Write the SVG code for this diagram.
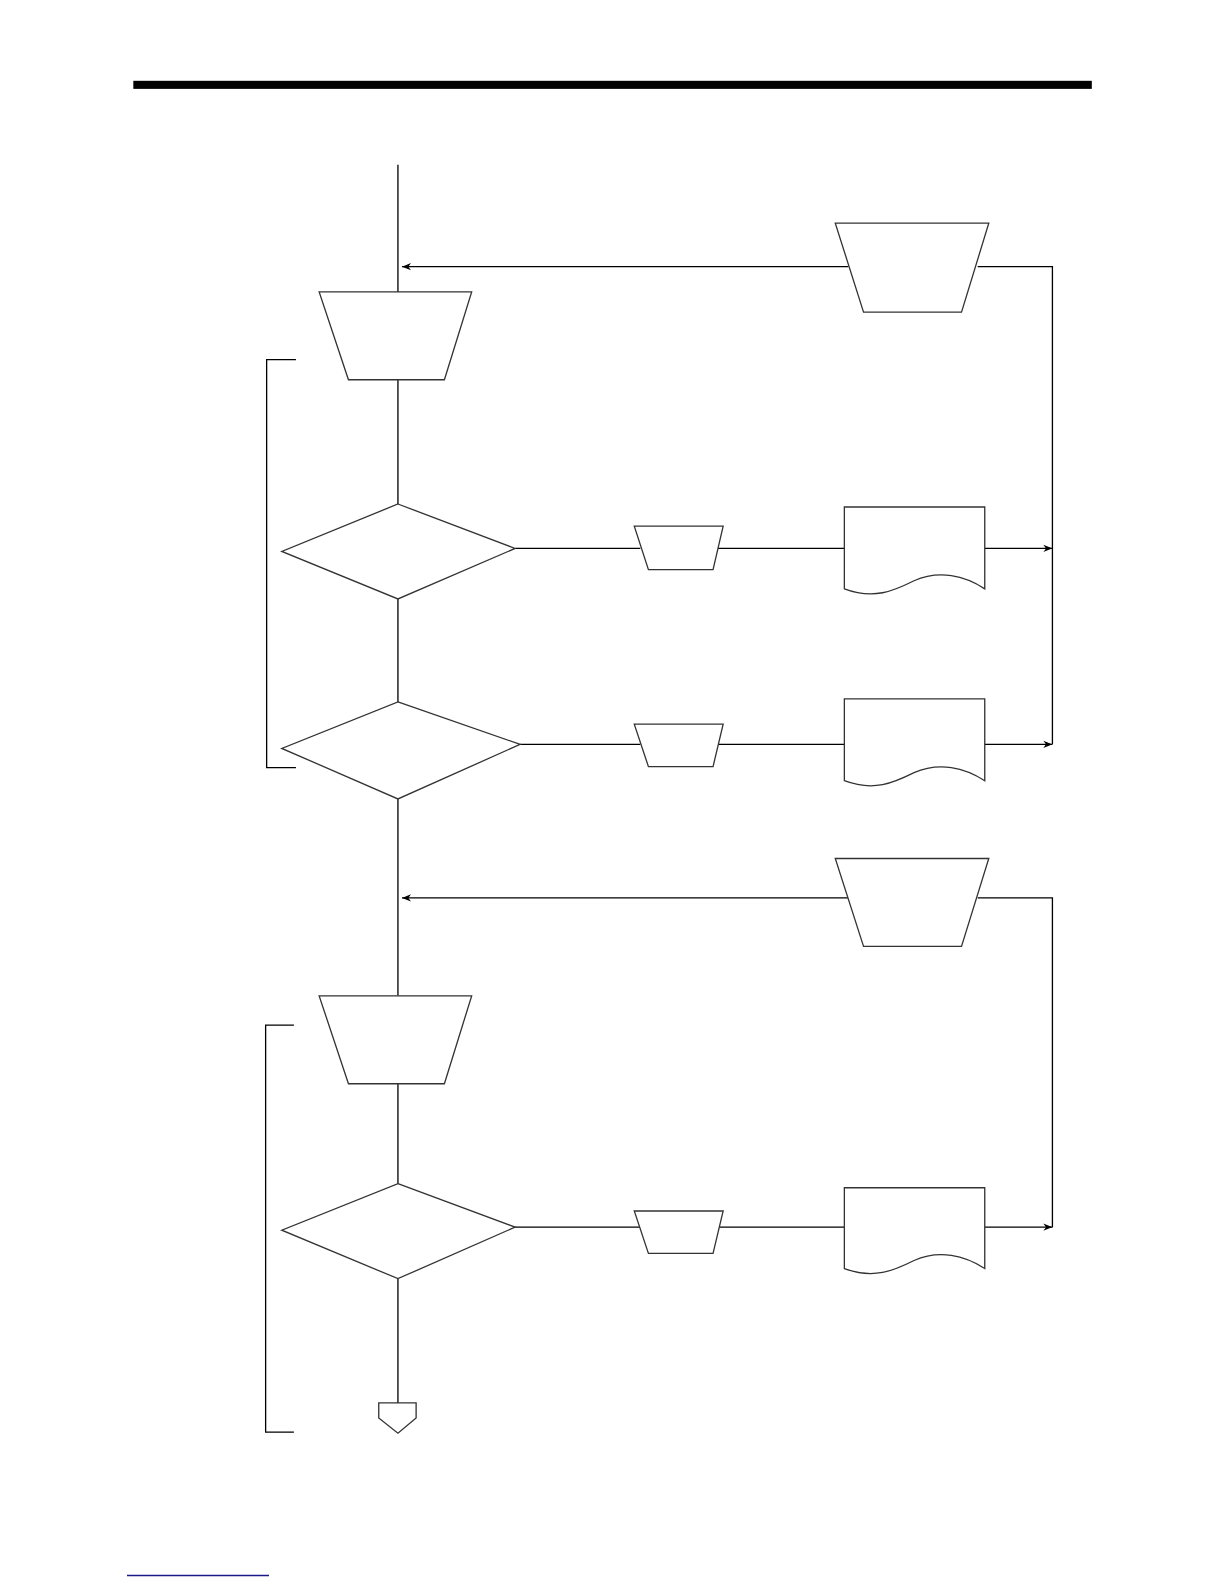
<svg xmlns="http://www.w3.org/2000/svg" width="1224" height="1584" viewBox="0 0 1224 1584">
<defs>
<style>
.ln{fill:none;stroke:#000;stroke-width:1.3}
.sh{fill:#fff;stroke:#333;stroke-width:1.3}
</style>
<marker id="ah" viewBox="0 0 10 10" refX="10" refY="5" markerWidth="9" markerHeight="9" markerUnits="userSpaceOnUse" orient="auto">
<path d="M0,1 L10,5 L0,9 L3,5 Z" fill="#000"/>
</marker>
</defs>
<rect x="0" y="0" width="1224" height="1584" fill="#fff"/>
<g transform="scale(1.01)">
<rect x="132" y="80" width="949" height="8" fill="#000"/>
<g id="connectors">
<path class="ln" d="M394,163 V289"/>
<path class="ln" d="M394,376 V499"/>
<path class="ln" d="M394,593 V695"/>
<path class="ln" d="M394,791 V986"/>
<path class="ln" d="M394,1073 V1172"/>
<path class="ln" d="M394,1266 V1389"/>
<path class="ln" d="M840,264 H398" marker-end="url(#ah)"/>
<path class="ln" d="M968,264 H1042 V737"/>
<path class="ln" d="M510,543 H634"/>
<path class="ln" d="M710,543 H836"/>
<path class="ln" d="M975,543 H1042" marker-end="url(#ah)"/>
<path class="ln" d="M515,737 H634"/>
<path class="ln" d="M710,737 H836"/>
<path class="ln" d="M975,737 H1042" marker-end="url(#ah)"/>
<path class="ln" d="M840,889 H398" marker-end="url(#ah)"/>
<path class="ln" d="M968,889 H1042 V1215"/>
<path class="ln" d="M510,1215 H634"/>
<path class="ln" d="M710,1215 H836"/>
<path class="ln" d="M975,1215 H1042" marker-end="url(#ah)"/>
<path class="ln" d="M293,356 H264 V760 H293"/>
<path class="ln" d="M291,1015 H263 V1418 H291"/>
</g>
<g id="manual1"><path class="sh" d="M316,289 H467 L440,376 H345 Z"/></g>
<g id="manualR1"><path class="sh" d="M827,221 H979 L952,309 H855 Z"/></g>
<g id="decision1"><path class="sh" d="M394,499 L510,543 L394,593 L279,546 Z"/></g>
<g id="small1"><path class="sh" d="M628,521 H716 L706,564 H642 Z"/></g>
<g id="doc1"><path class="sh" d="M836,502 H975 V583 C955,570 930,564 905,575 C885,585 865,594 836,583 Z"/></g>
<g id="decision2"><path class="sh" d="M394,695 L515,737 L394,791 L279,741 Z"/></g>
<g id="small2"><path class="sh" d="M628,717 H716 L706,759 H642 Z"/></g>
<g id="doc2"><path class="sh" d="M836,692 H975 V773 C955,760 930,754 905,765 C885,775 865,784 836,773 Z"/></g>
<g id="manualR2"><path class="sh" d="M827,850 H979 L952,937 H855 Z"/></g>
<g id="manual2"><path class="sh" d="M316,986 H467 L440,1073 H345 Z"/></g>
<g id="decision3"><path class="sh" d="M394,1172 L510,1215 L394,1266 L279,1218 Z"/></g>
<g id="small3"><path class="sh" d="M628,1199 H716 L706,1241 H642 Z"/></g>
<g id="doc3"><path class="sh" d="M836,1176 H975 V1256 C955,1243 930,1237 905,1248 C885,1258 865,1267 836,1256 Z"/></g>
<g id="offpage"><path class="sh" d="M375,1389 H412 V1404 L394,1419 L375,1404 Z"/></g>
</g>
<line x1="127" y1="1575.5" x2="269" y2="1575.5" stroke="#1a1a8c" stroke-width="1.3"/>
</svg>
